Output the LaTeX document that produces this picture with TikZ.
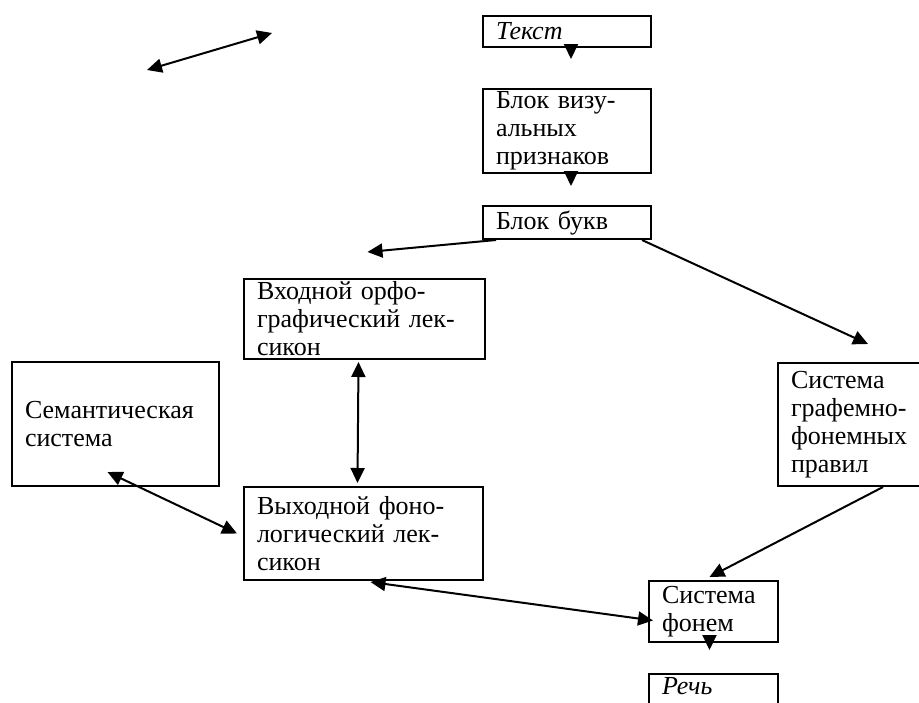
\documentclass[tikz,border=0pt]{standalone}
\usepackage{fontspec}
\setmainfont{Liberation Serif}
\usetikzlibrary{arrows.meta}

\begin{document}
\begin{tikzpicture}[
    x=1pt, y=-1pt,
    blok/.style={
        draw,
        line width=2pt,
        anchor=north west,
        align=left,
        inner xsep=13pt,
        inner ysep=1pt,
        font=\fontsize{26}{28}\selectfont,
    },
    strelka/.style={
        -{Triangle[length=15pt,width=14pt]},
        line width=2pt,
    },
    dvestrelki/.style={
        {Triangle[length=15pt,width=14pt]}-{Triangle[length=15pt,width=14pt]},
        line width=2pt,
    },
]
\useasboundingbox (0,0) rectangle (919,702);
\clip (0,0) rectangle (919,702);

\node[blok,text width=142pt,minimum height=31pt] (tekst) at (482,15) {\textit{Текст}};
\node[blok,text width=142pt,minimum height=84pt] (vizual) at (482,88) {Блок визу-\\альных\\признаков};
\node[blok,text width=142pt,minimum height=33pt] (bukvy) at (482,205) {Блок букв};
\node[blok,text width=215pt,minimum height=80pt] (vhod) at (243,278) {Входной орфо-\\графический лек-\\сикон};
\node[blok,text width=181pt,minimum height=124pt] (semant) at (11,361) {Семантическая\\система};
\node[blok,text width=134pt,minimum height=123pt] (grafon) at (777,362) {Система\\графемно-\\фонемных\\правил};
\node[blok,text width=213pt,minimum height=93pt] (vyhod) at (243,486) {Выходной фоно-\\логический лек-\\сикон};
\node[blok,text width=103pt,minimum height=61pt] (fonemy) at (648,580) {Система\\фонем};
\node[blok,text width=103pt,text height=19pt,text depth=18pt] (rech) at (648,673) {\textit{Речь}};

% free arrow at the top left
\coordinate (lev) at (147,70);
\coordinate (prav) at (272,33);
\draw[dvestrelki] (lev) -- (prav);

\draw[strelka] ([xshift=4pt,yshift=2pt]tekst.south) -- ([xshift=4pt,yshift=-11pt]tekst.south);
\draw[strelka] ([xshift=4pt,yshift=2pt]vizual.south) -- ([xshift=4pt,yshift=-12pt]vizual.south);
\draw[strelka] ([xshift=14pt]bukvy.south west) -- ([xshift=3pt,yshift=26pt]vhod.north);
\draw[strelka] ([xshift=-10pt]bukvy.south east) -- ([xshift=91pt,yshift=18pt]grafon.north west);
\draw[dvestrelki] ([xshift=-6pt,yshift=-2pt]vhod.south) -- ([xshift=-6pt,yshift=3pt]vyhod.north);
\draw[dvestrelki] ([xshift=-8pt,yshift=15pt]semant.south) -- ([xshift=-6pt]vyhod.west);
\draw[dvestrelki] ([xshift=7pt,yshift=-1pt]vyhod.south) -- ([xshift=5pt,yshift=-9pt]fonemy.west);
\draw[strelka] ([xshift=106pt]grafon.south west) -- ([xshift=-4pt,yshift=3pt]fonemy.north);
\draw[strelka] ([xshift=-4pt,yshift=8pt]fonemy.south) -- ([xshift=-4pt,yshift=-7pt]fonemy.south);
\end{tikzpicture}
\end{document}
